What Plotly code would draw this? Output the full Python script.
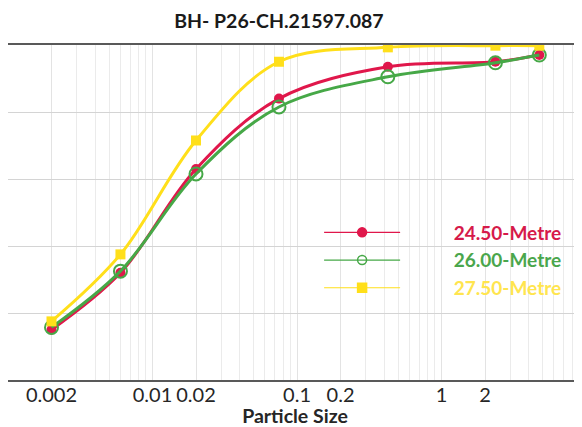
import plotly.graph_objects as go

# ---- data ----
particle_size = [0.002, 0.006, 0.02, 0.075, 0.425, 2.36, 4.75]
pass_2450 = [15.0, 32.0, 63.0, 84.0, 93.5, 95.0, 97.0]
pass_2600 = [15.7, 32.5, 61.5, 81.5, 90.5, 94.7, 97.0]
pass_2750 = [17.5, 37.5, 71.5, 95.0, 99.3, 99.8, 99.8]
series_names = ["24.50-Metre", "26.00-Metre", "27.50-Metre"]
tick_vals = [0.002, 0.01, 0.02, 0.1, 0.2, 1, 2]
tick_text = ["0.002", "0.01", "0.02", "0.1", "0.2", "1", "2"]

RED = "#E0174B"
GREEN = "#46A847"
YELLOW = "#FFDF1A"

FONT = "Lato"

fig = go.Figure()

# main series (not in legend)
fig.add_trace(go.Scatter(
    x=particle_size, y=pass_2450, mode="lines+markers", showlegend=False,
    line=dict(color=RED, width=3, shape="spline"),
    marker=dict(symbol="circle", size=10, color=RED)))
fig.add_trace(go.Scatter(
    x=particle_size, y=pass_2600, mode="lines+markers", showlegend=False,
    line=dict(color=GREEN, width=3, shape="spline"),
    marker=dict(symbol="circle-open", size=13, color=GREEN, line=dict(width=2))))
fig.add_trace(go.Scatter(
    x=particle_size, y=pass_2750, mode="lines+markers", showlegend=False,
    line=dict(color=YELLOW, width=3, shape="spline"),
    marker=dict(symbol="square", size=10, color=YELLOW)))

# legend-only samples
pad = "\u00a0" * 10
legend_specs = [
    (series_names[0], RED, "#D61A4A", "circle", 9),
    (series_names[1], GREEN, "#4AA64C", "circle-open", 9),
    (series_names[2], YELLOW, "#FFE54F", "square", 9),
]
for name, col, tcol, sym, sz in legend_specs:
    fig.add_trace(go.Scatter(
        x=[None], y=[None], mode="lines+markers",
        name=f'{pad}<span style="color:{tcol}"><b>{name}</b></span>',
        line=dict(color=col, width=1.2),
        marker=dict(symbol=sym, size=sz, color=col, line=dict(width=1.5, color=col))))

# minor gridline positions (1..9 per decade)
minor_vals = []
for e in range(-3, 1):
    for m in range(1, 10):
        v = m * 10 ** e
        if v not in tick_vals:
            minor_vals.append(v)
minor_vals.append(10)

# the page body adds an 8px offset; the figure is sized/positioned to compensate
fig.update_layout(
    width=574, height=419,
    margin=dict(l=0, r=0, t=37, b=47),
    paper_bgcolor="white", plot_bgcolor="white",
    font=dict(family=FONT, color="#262626"),
    title=dict(text="<b>BH- P26-CH.21597.087</b>", x=0.472, xanchor="center",
               y=0.969, yanchor="middle", font=dict(size=19.5, color="#1a1a1a")),
    xaxis=dict(
        type="log", range=[-3, 0.972],
        tickvals=tick_vals, ticktext=tick_text,
        tickfont=dict(size=20, color="#262626"),
        ticklabelstandoff=-4,
        showgrid=True, gridcolor="#e3e3e3", gridwidth=1,
        minor=dict(tickvals=minor_vals, showgrid=True, gridcolor="#ebebeb", gridwidth=1, ticks=""),
        showline=True, linecolor="#595959", linewidth=2, mirror=True,
        ticks="", zeroline=False,
        title=dict(text="<b>Particle Size</b>", font=dict(size=19.5, color="#262626"), standoff=0),
    ),
    yaxis=dict(
        range=[0, 100], tickvals=[0, 20, 40, 60, 80, 100], showticklabels=False,
        showgrid=True, gridcolor="#d4d4d4", gridwidth=1,
        showline=True, linecolor="#bfbfbf", linewidth=1, ticks="", zeroline=False,
    ),
    legend=dict(
        x=0.542, xanchor="left", y=0.497, yanchor="top",
        bgcolor="rgba(0,0,0,0)", borderwidth=0,
        itemwidth=76, font=dict(size=19, family=FONT),
        tracegroupgap=0,
    ),
)

fig.write_html("out.html")
